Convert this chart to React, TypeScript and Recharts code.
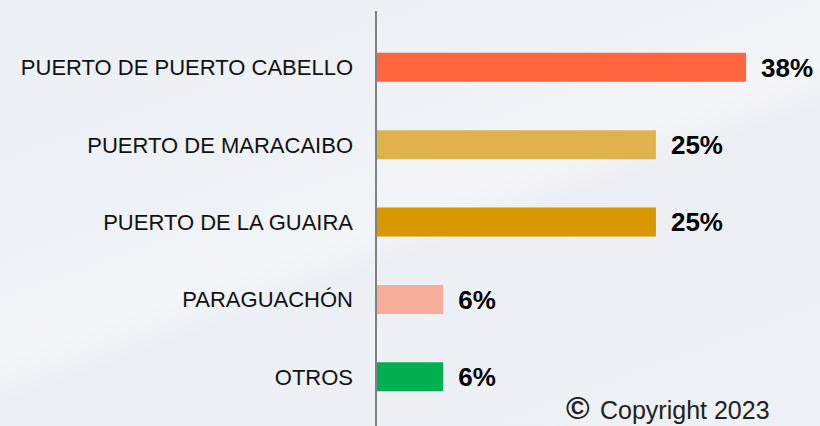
import React from "react";
import { BarChart, Bar, XAxis, YAxis, Cell, LabelList } from "recharts";

const categories = [
  "PUERTO DE PUERTO CABELLO",
  "PUERTO DE MARACAIBO",
  "PUERTO DE LA GUAIRA",
  "PARAGUACHÓN",
  "OTROS",
];
const values = [38, 28.75, 28.75, 6.9, 6.9];
const valueLabels = ["38%", "25%", "25%", "6%", "6%"];
const colors = ["#FF6640", "#E0B24C", "#D99800", "#F7AC99", "#00B050"];

const data = categories.map((name, i) => ({
  name,
  value: values[i],
  label: valueLabels[i],
}));

export default function App() {
  return (
    <div
      style={{
        position: "absolute",
        left: 0,
        top: 0,
        width: 820,
        height: 426,
        background:
          "linear-gradient(160deg, #eceff3 0%, #eef1f5 35%, #f3f5f8 50%, #eceff3 56%, #eef1f5 100%)",
        overflow: "hidden",
      }}
    >
      <BarChart
        width={820}
        height={426}
        data={data}
        layout="vertical"
        margin={{ top: 11, right: 54.5, bottom: 0, left: 0 }}
        barSize={29}
      >
        <XAxis type="number" hide domain={[0, 40]} />
        <YAxis
          type="category"
          dataKey="name"
          width={376}
          padding={{ top: 17.8, bottom: 10.3 }}
          axisLine={{ stroke: "#808080", strokeWidth: 2 }}
          tickLine={false}
          tickMargin={17}
          tick={{
            fill: "#111111",
            fontSize: 22,
            fontFamily: "Liberation Sans, Arial, sans-serif",
          }}
        />
        <Bar dataKey="value" isAnimationActive={false}>
          {data.map((d, i) => (
            <Cell key={d.name} fill={colors[i]} />
          ))}
          <LabelList
            dataKey="label"
            position="right"
            offset={15}
            style={{
              fill: "#000000",
              fontSize: 26,
              fontWeight: "bold",
              fontFamily: "Liberation Sans, Arial, sans-serif",
            }}
          />
        </Bar>
      </BarChart>
      <div
        style={{
          position: "absolute",
          left: 566,
          top: 390,
          fontFamily: "Liberation Sans, Arial, sans-serif",
          color: "#222222",
          fontSize: 32,
          fontWeight: "bold",
          lineHeight: "36px",
          whiteSpace: "nowrap",
        }}
      >
        ©
      </div>
      <div
        style={{
          position: "absolute",
          left: 600,
          top: 398,
          fontFamily: "Liberation Sans, Arial, sans-serif",
          color: "#222222",
          fontSize: 25,
          lineHeight: "25px",
          whiteSpace: "nowrap",
        }}
      >
        Copyright 2023
      </div>
    </div>
  );
}
